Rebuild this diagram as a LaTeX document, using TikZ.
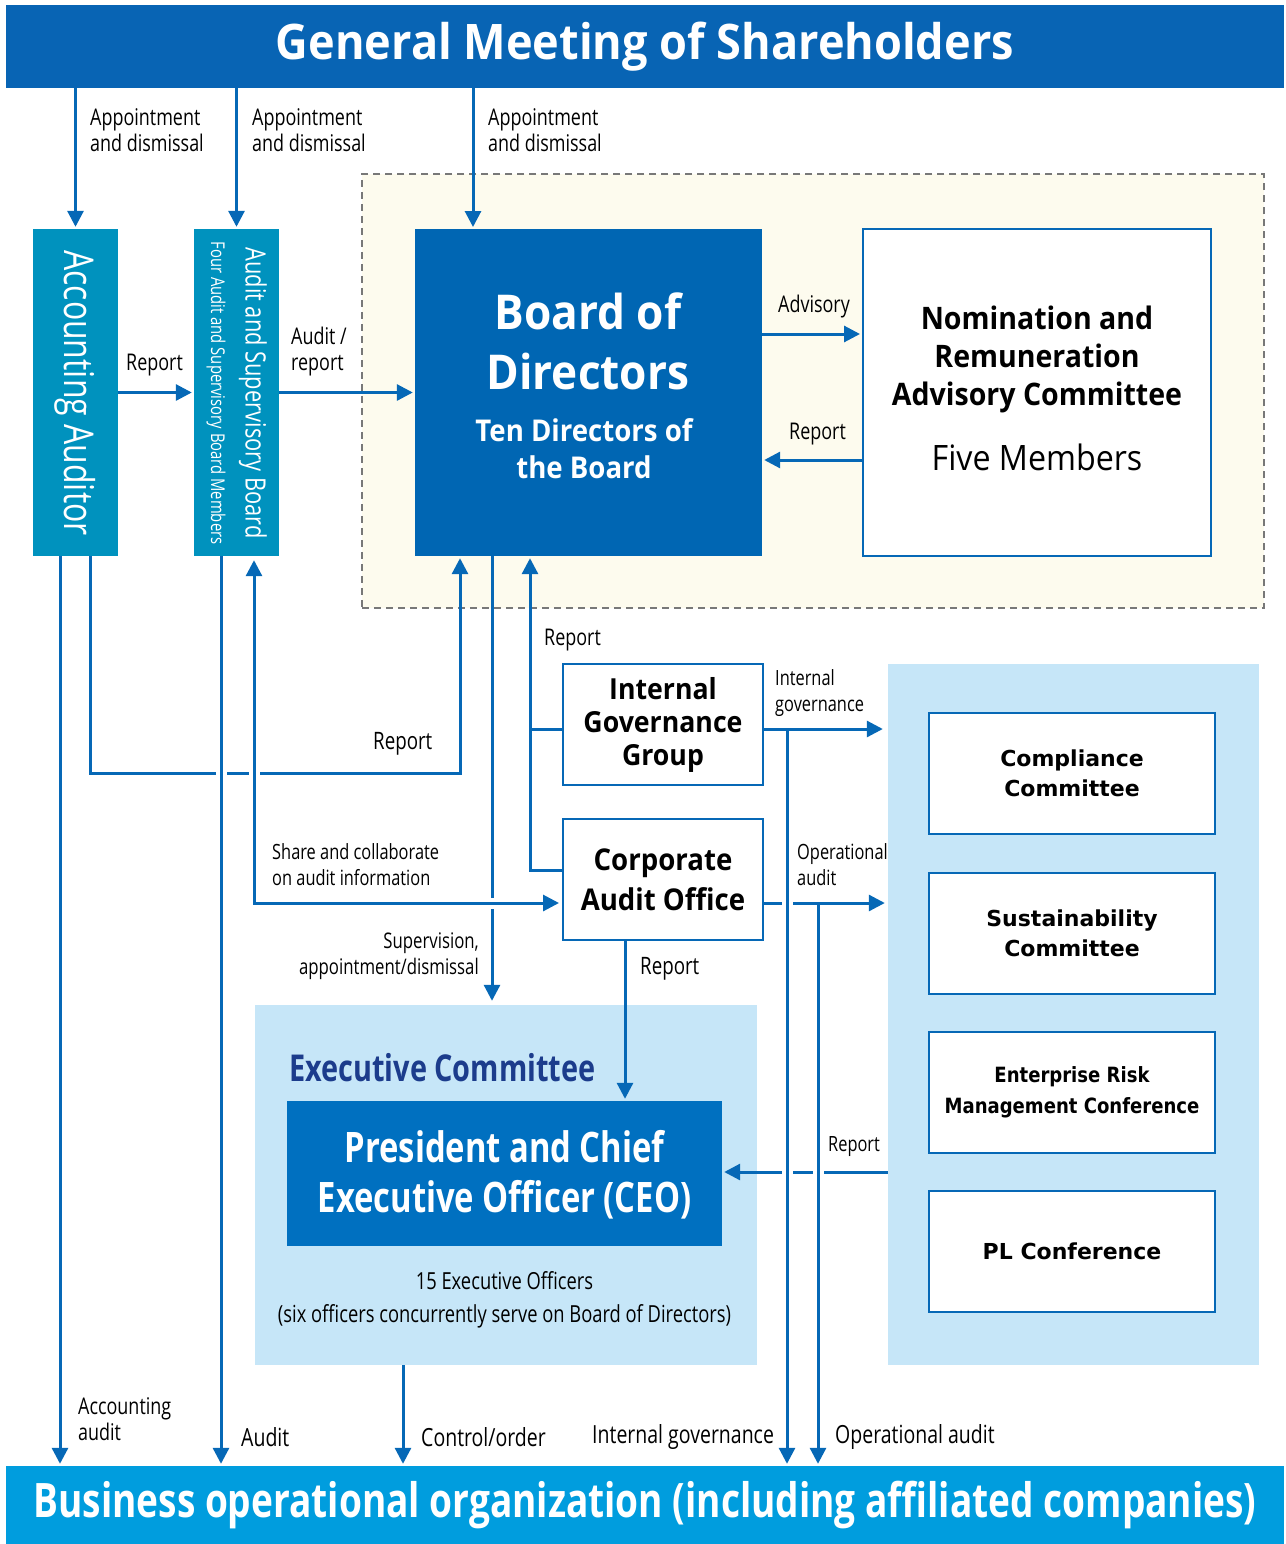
\documentclass[tikz,border=0pt]{standalone}
\usepackage{fontspec}
\setmainfont{Open Sans}
\newfontfamily\cnd[FakeStretch=0.78]{Open Sans}
\newfontfamily\hdf[FakeStretch=0.92]{Open Sans}
\newfontfamily\dvs{DejaVu Sans}
\newfontfamily\dvc[FakeStretch=0.86]{DejaVu Sans}
\usetikzlibrary{arrows.meta,calc}
\definecolor{hdrblue}{RGB}{8,100,180}
\definecolor{lineblue}{RGB}{6,104,182}
\definecolor{tealbox}{RGB}{0,146,190}
\definecolor{bodblue}{RGB}{0,102,179}
\definecolor{ceoblue}{RGB}{0,112,192}
\definecolor{botblue}{RGB}{0,157,222}
\definecolor{panelblue}{RGB}{198,230,248}
\definecolor{cream}{RGB}{253,251,238}
\definecolor{navy}{RGB}{28,60,140}
\definecolor{dashgray}{RGB}{120,120,120}
\begin{document}
\begin{tikzpicture}[x=1pt,y=-1pt,
  ln/.style={draw=lineblue, line width=3pt},
  arr/.style={ln, -{Triangle[length=16pt,width=16pt]}, shorten >=2pt},
  halo/.style={preaction={draw=white,line width=11pt,-,shorten >=0pt}},
  lbl/.style={font=\cnd\fontsize{23}{26}\selectfont, align=left, inner sep=0, text=black},
  blbl/.style={font=\cnd\fontsize{25}{26}\selectfont, align=left, inner sep=0, text=black},
  wbox/.style={draw=lineblue, line width=2pt, fill=white, inner sep=0},
  fbox/.style={inner sep=0, draw=none}]
\useasboundingbox (0,0) rectangle (1285,1544);

% ---------- backgrounds and boxes ----------
\node[fbox, fill=hdrblue, minimum width=1278, minimum height=83] (gm) at (645,46.5)
  {\textcolor{white}{\hdf\bfseries\fontsize{49}{52}\selectfont General Meeting of Shareholders}};
\node[fbox, fill=botblue, minimum width=1278, minimum height=78] (bo) at (645,1505)
  {\textcolor{white}{\cnd\bfseries\fontsize{47.5}{50}\selectfont Business operational organization (including affiliated companies)}};

\node[fbox, fill=cream, draw=dashgray, line width=2pt, dash pattern=on 7pt off 5pt,
  minimum width=902, minimum height=434] (dreg) at (813,391) {};

\node[fbox, fill=tealbox, minimum width=85, minimum height=327] (acc) at (75.5,392.5) {};
\node[rotate=-90, text=white, inner sep=0, font=\cnd\fontsize{41}{44}\selectfont] (acct) at (75.5,393) {Accounting Auditor};
\node[fbox, fill=tealbox, minimum width=85, minimum height=327] (asb) at (236.5,392.5) {};
\node[rotate=-90, text=white, inner sep=0, font=\cnd\fontsize{28}{30}\selectfont] (asbt) at (253,393) {Audit and Supervisory Board};
\node[rotate=-90, text=white, inner sep=0, font=\cnd\fontsize{19}{20}\selectfont] (asbs) at (216,393) {Four Audit and Supervisory Board Members};

\node[fbox, fill=bodblue, minimum width=347, minimum height=327] (bod) at (588.5,392.5) {};
\node[text=white, align=center, inner sep=0, font=\hdf\bfseries\fontsize{48}{60}\selectfont] (bodt) at (588,341) {Board of\\Directors};
\node[text=white, align=center, inner sep=0, font=\hdf\bfseries\fontsize{30}{37}\selectfont] (bods) at (584,449) {Ten Directors of\\the Board};

\node[wbox, minimum width=348, minimum height=327] (nom) at (1037,392.5) {};
\node[align=center, inner sep=0, font=\hdf\bfseries\fontsize{31}{38}\selectfont] (nomt) at (1037,359) {Nomination and\\Remuneration\\Advisory Committee};
\node[inner sep=0, font=\hdf\fontsize{35}{38}\selectfont] (nomm) at (1037,457) {Five Members};

\node[fbox, fill=panelblue, minimum width=371, minimum height=701] (rp) at (1073.5,1014.5) {};
\node[wbox, minimum width=286, minimum height=121, align=center, font=\dvs\bfseries\fontsize{22}{30}\selectfont] (comp) at (1072,773.5) {Compliance\\Committee};
\node[wbox, minimum width=286, minimum height=121, align=center, font=\dvs\bfseries\fontsize{22}{30}\selectfont] (sust) at (1072,933) {Sustainability\\Committee};
\node[wbox, minimum width=286, minimum height=121, align=center, font=\dvc\bfseries\fontsize{21}{31}\selectfont] (erm) at (1072,1092.5) {Enterprise Risk\\Management Conference};
\node[wbox, minimum width=286, minimum height=121, align=center, font=\dvs\bfseries\fontsize{22}{30}\selectfont] (plc) at (1072,1251.5) {PL Conference};

\node[fbox, fill=panelblue, minimum width=502, minimum height=360] (exec) at (506,1185) {};
\node[anchor=west, inner sep=0, text=navy, font=\cnd\bfseries\fontsize{37}{40}\selectfont] (exect) at (289,1068) {Executive Committee};
\node[fbox, fill=ceoblue, minimum width=435, minimum height=145] (ceo) at (504.5,1173.5) {};
\node[text=white, align=center, inner sep=0, font=\cnd\bfseries\fontsize{42}{50}\selectfont] (ceot) at (504.5,1175) {President and Chief\\Executive Officer (CEO)};
\node[align=center, inner sep=0, font=\cnd\fontsize{23.5}{33}\selectfont] (execs) at (504.5,1300) {15 Executive Officers\\(six officers concurrently serve on Board of Directors)};

\node[wbox, minimum width=200, minimum height=121, align=center, font=\hdf\bfseries\fontsize{29}{33}\selectfont] (igg) at (663,724.5) {Internal\\Governance\\Group};
\node[wbox, minimum width=200, minimum height=121, align=center, font=\hdf\bfseries\fontsize{30}{40}\selectfont] (cao) at (663,879.5) {Corporate\\Audit Office};

% ---------- connectors ----------
\coordinate (bt) at (473,229);
\draw[arr] (acc.north |- gm.south) -- (acc.north);
\draw[arr] (asb.north |- gm.south) -- (asb.north);
\draw[arr] (bt |- gm.south) -- (bt);

\draw[arr] (acc.east) -- (asb.west);
\draw[arr] (asb.east) -- (bod.west);
\draw[arr] (bod.east |- 0,334) -- (nom.west |- 0,334);
\draw[arr] (nom.west |- 0,460) -- (bod.east |- 0,460);

% right side
\draw[arr] (rp.west |- 0,1172) -- (ceo.east |- 0,1172);
\draw[arr, halo] (818,903) -- (bo.north -| 818,0);
\draw[arr, shorten >=3pt] (cao.east |- 0,903) -- (rp.west |- 0,903);
\draw[arr, halo] (787,729) -- (bo.north -| 787,0);
\draw[arr, shorten >=5pt] (igg.east |- 0,729) -- (rp.west |- 0,729);

% reports to board
\draw[ln] (igg.west |- 0,729) -- (530,729);
\draw[arr] (cao.west |- 0,870) -- (530,870) -- (bod.south -| 530,0);
\draw[arr] (cao.south -| 625,0) -- (ceo.north -| 625,0);

% left side
\draw[arr] (acc.south -| 90,0) -- (90,773) -- (460,773) -- (bod.south -| 460,0);
\draw[arr] (acc.south -| 60,0) -- (bo.north -| 60,0);
\draw[arr, halo] (asb.south -| 221,0) -- (bo.north -| 221,0);
\draw[arr, shorten >=4pt] (bod.south -| 492,0) -- (exec.north -| 492,0);
\draw[ln, {Triangle[length=16pt,width=16pt]}-{Triangle[length=16pt,width=16pt]}, shorten <=4pt, shorten >=3pt,
  preaction={draw=white,line width=11pt,-,shorten <=10pt,shorten >=10pt}]
  (asb.south -| 254,0) -- (254,903) -- (cao.west |- 0,903);
\draw[arr] (exec.south -| 403,0) -- (bo.north -| 403,0);

% ---------- labels ----------
\node[lbl, anchor=west] (l1) at (90,130) {Appointment\\and dismissal};
\node[lbl, anchor=west] (l2) at (252,130) {Appointment\\and dismissal};
\node[lbl, anchor=west] (l3) at (488,130) {Appointment\\and dismissal};
\node[lbl, anchor=west] (l4) at (126,365) {Report};
\node[lbl, anchor=west] (l5) at (291,352) {Audit /\\report};
\node[lbl, anchor=west] (l6) at (778,307) {Advisory};
\node[lbl, anchor=west] (l7) at (789,434) {Report};
\node[lbl, anchor=west] (l8) at (544,640) {Report};
\node[lbl, anchor=west, font=\cnd\fontsize{24}{26}\selectfont] (l9) at (373,744) {Report};
\node[lbl, anchor=west, font=\cnd\fontsize{21}{26}\selectfont] (l10) at (272,865) {Share and collaborate\\on audit information};
\node[lbl, anchor=west, font=\cnd\fontsize{21}{26}\selectfont] (l11) at (775,693) {Internal\\governance};
\node[lbl, anchor=west, font=\cnd\fontsize{21}{26}\selectfont] (l12) at (797,865) {Operational\\audit};
\node[lbl, anchor=east, align=right, font=\cnd\fontsize{21.5}{26}\selectfont] (l13) at (479,956) {Supervision,\\appointment/dismissal};
\node[lbl, anchor=west, font=\cnd\fontsize{24}{26}\selectfont] (l14) at (640,969) {Report};
\node[lbl, anchor=west, font=\cnd\fontsize{21}{26}\selectfont] (l15) at (828,1147) {Report};
\node[lbl, anchor=west] (l16) at (78,1419) {Accounting\\audit};
\node[blbl, anchor=west] (l17) at (241,1437) {Audit};
\node[blbl, anchor=west] (l18) at (421,1437) {Control/order};
\node[blbl, anchor=west] (l19) at (592,1437) {Internal governance};
\node[blbl, anchor=west] (l20) at (835,1437) {Operational audit};
\end{tikzpicture}
\end{document}
